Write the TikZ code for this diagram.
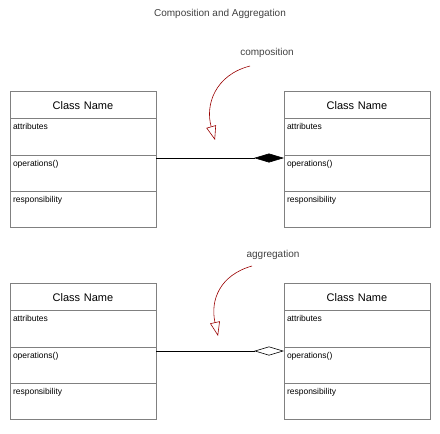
\documentclass[tikz,border=0pt]{standalone}
\usepackage{fontspec}
\setmainfont{Liberation Sans}
\usetikzlibrary{arrows.meta}
\begin{document}
\begin{tikzpicture}[x=1pt,y=-1pt,
  row/.style={draw=black!50,line width=0.7pt,minimum width=146pt,inner xsep=3pt,inner ysep=4pt,anchor=north west,text width=140pt,font=\fontsize{8.5}{10}\selectfont,align=left,outer sep=0pt},
  hdr/.style={row,align=center,font=\fontsize{11}{13}\selectfont},
  lbl/.style={font=\fontsize{10}{12}\selectfont,text=black!75},
  note/.style={draw=red!60!black,line width=0.6pt,-{Triangle[open,length=14pt,width=10pt]}},
  link/.style={draw=black,line width=0.6pt}]
\useasboundingbox (0,0) rectangle (440,434);
\node[lbl] (title) at (220,14) {Composition and Aggregation};
\foreach \n/\x/\y in {a/10/91,b/284/91,c/10/283,d/284/283}{
  \node[hdr,minimum height=27.5pt,text height=9pt,inner ysep=4pt] (\n h) at (\x,\y) {Class Name};
  \node[row,minimum height=36.5pt,text height=7pt,text depth=21pt] (\n a) at (\n h.south west) {attributes};
  \node[row,minimum height=36pt,text height=7pt,text depth=21pt] (\n o) at (\n a.south west) {operations()};
  \node[row,minimum height=36pt,text height=7pt,text depth=21pt] (\n r) at (\n o.south west) {responsibility};
}
\draw[link,-{Diamond[length=30pt,width=9pt]}] ([yshift=-3pt]ao.north east) -- ([yshift=-3pt]bo.north west);
\draw[link,-{Diamond[open,fill=white,length=30pt,width=9pt]}] ([yshift=-4pt]co.north east) -- ([yshift=-4pt]do.north west);
\node[lbl] (comp) at (267,53) {composition};
\node[lbl] (aggr) at (273,255) {aggregation};
\coordinate (ct) at (215,140);
\coordinate (at) at (218,336);
\draw[note] (250,66) .. controls (215,75) and (205,105) .. (ct);
\draw[note] (252,266) .. controls (220,275) and (210,300) .. (at);
\end{tikzpicture}
\end{document}
